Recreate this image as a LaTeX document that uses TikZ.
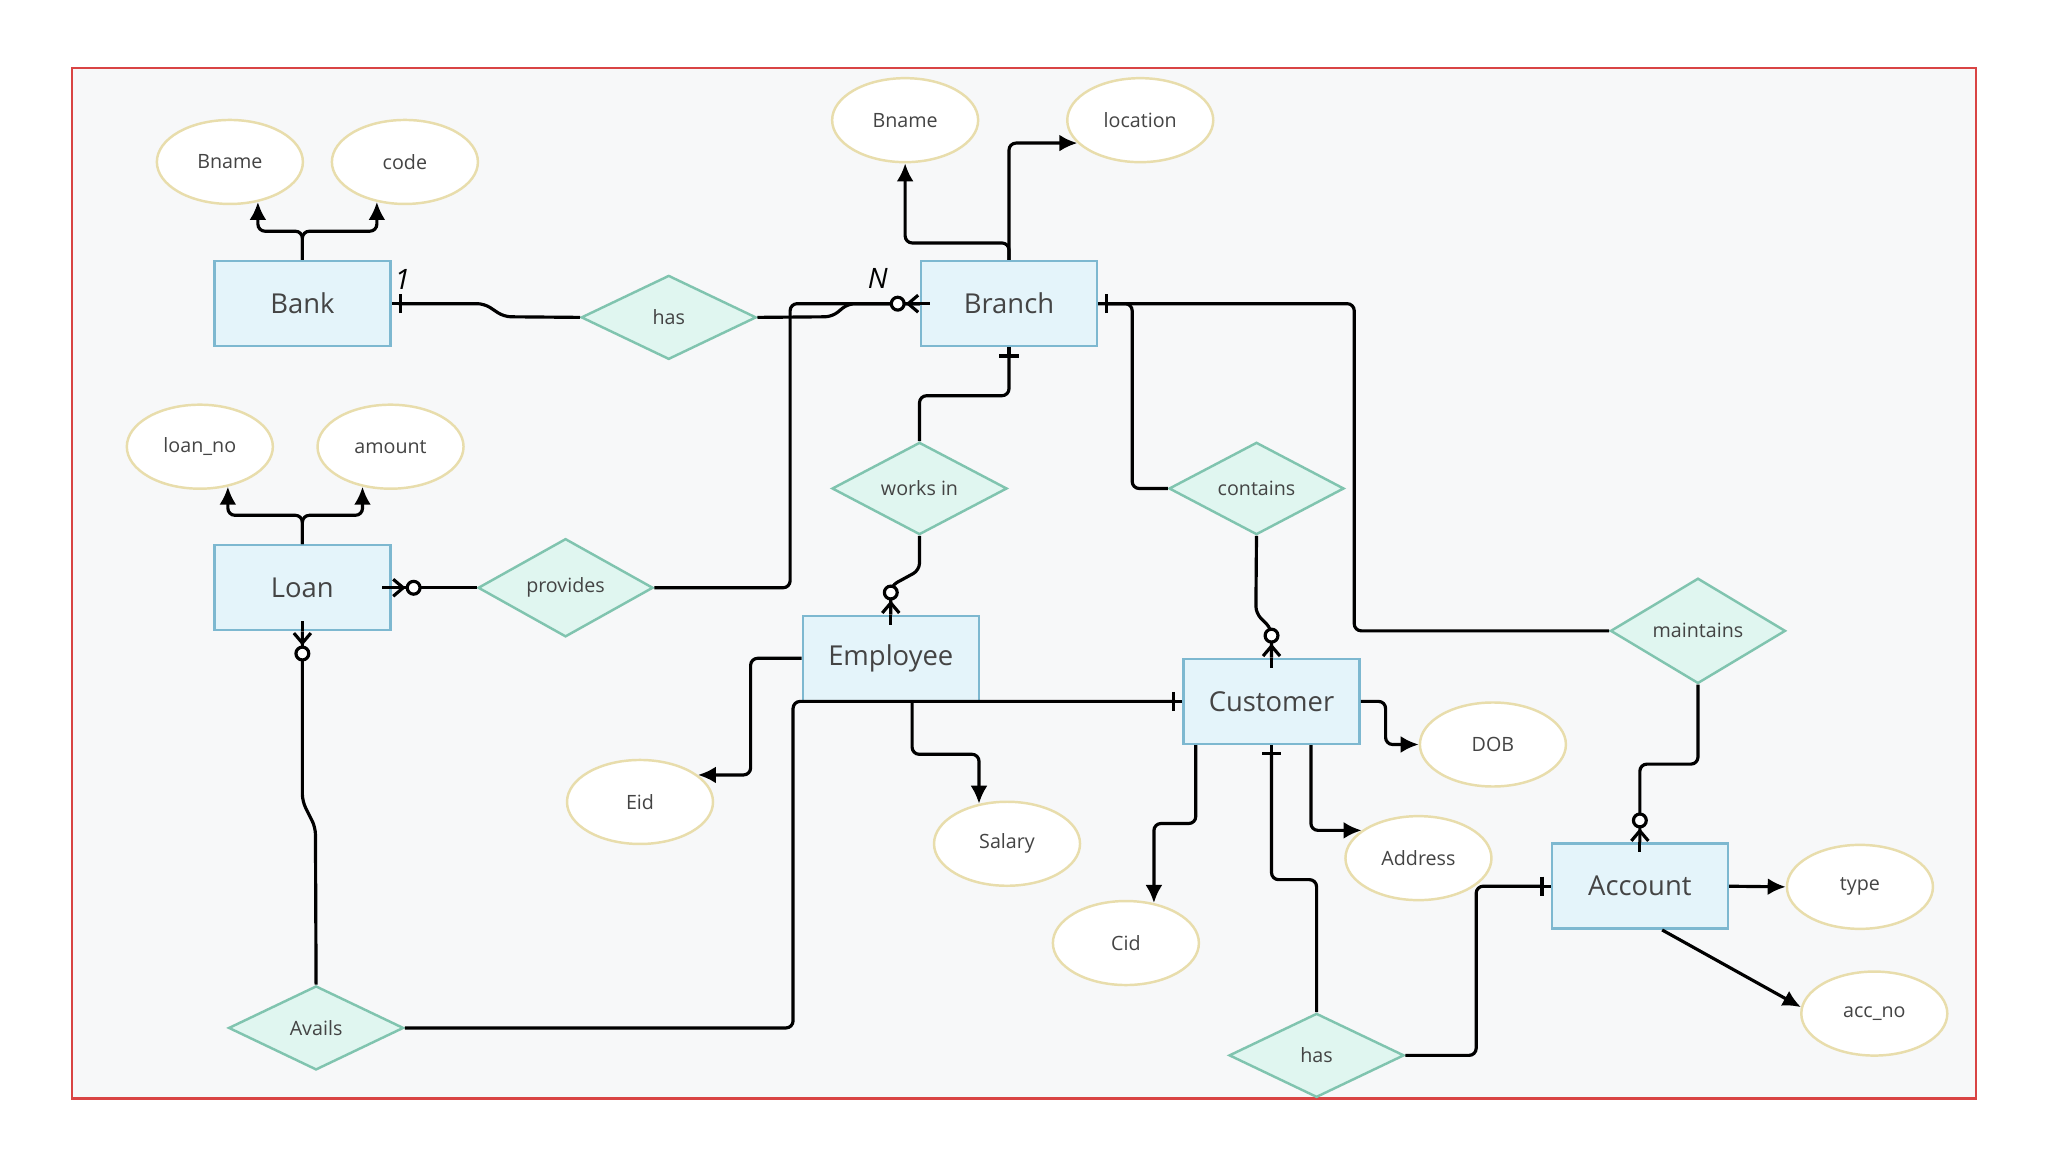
\documentclass[tikz,border=0pt]{standalone}
\usepackage{fontspec}
\setmainfont{Open Sans}
\usetikzlibrary{shapes.geometric,arrows.meta}
\definecolor{entfill}{HTML}{E4F4FA}
\definecolor{entline}{HTML}{7DB8D0}
\definecolor{relfill}{HTML}{E0F6F0}
\definecolor{relline}{HTML}{80C4AF}
\definecolor{attline}{HTML}{E8DDAC}
\definecolor{paper}{HTML}{F7F8F9}
\definecolor{framered}{HTML}{D94444}
\definecolor{ink}{HTML}{444444}
\tikzset{
  entity/.style={draw=entline,fill=entfill,line width=.7pt,minimum width=17.6mm,minimum height=8.5mm,inner sep=0pt,text=ink,font=\fontsize{7.8}{9}\selectfont},
  relation/.style={diamond,draw=relline,fill=relfill,line width=.7pt,minimum width=17.5mm,minimum height=8.4mm,inner sep=0pt,text=ink,font=\fontsize{5.6}{7}\selectfont},
  attrib/.style={ellipse,draw=attline,fill=white,line width=.7pt,minimum width=14.6mm,minimum height=8.4mm,inner sep=0pt,text=ink,font=\fontsize{5.6}{7}\selectfont},
  attrline/.style={line width=.9pt,rounded corners=2pt,-{Latex[length=1.8mm,width=1.7mm]}},
  rel/.style={line width=.9pt,rounded corners=2pt},
  onemark/.style={{Rectangle[length=.7mm,width=.9pt,line width=0pt] Bar[width=1.9mm]}-},
  manymark/.style={{Rectangle[length=1mm,width=.9pt,line width=0pt,sep=-1mm] Straight Barb[reversed,length=1mm,width=1.7mm] Circle[open,fill=white,length=1.6mm]}-},
}
\begin{document}
\begin{tikzpicture}[x=0.1306mm,y=-0.1306mm]
\useasboundingbox (0,0) rectangle (1568,882);
\fill[paper] (55,52) rectangle (1513,841);
\draw[framered,line width=.6pt] (55,52) rectangle (1513,841);

% entities
\node[entity] (bank) at (231.5,232.5) {Bank};
\node[entity] (branch) at (772.5,232.5) {Branch};
\node[entity] (loan) at (231.5,450) {Loan};
\node[entity] (emp) at (682,504) {Employee};
\node[entity] (cust) at (973.5,537) {Customer};
\node[entity] (acc) at (1255.5,678.5) {Account};

% relationships
\node[relation] (hasbr) at (512,243) {has};
\node[relation] (works) at (704,374) {works in};
\node[relation] (contains) at (962,374) {contains};
\node[relation] (provides) at (433,450) {provides};
\node[relation] (maintains) at (1300,483) {maintains};
\node[relation] (avails) at (242,787) {Avails};
\node[relation] (hasac) at (1008,808) {has};

% attributes
\node[attrib] (bankname) at (176,124) {Bname};
\node[attrib] (bankcode) at (310,124) {code};
\node[attrib] (brname) at (693,92) {Bname};
\node[attrib] (brloc) at (873,92) {location};
\node[attrib] (loanno) at (153,342) {loan\_no};
\node[attrib] (amount) at (299,342) {amount};
\node[attrib] (eid) at (490,614) {Eid};
\node[attrib] (salary) at (771,646) {Salary};
\node[attrib] (dob) at (1143,570) {DOB};
\node[attrib] (addr) at (1086,657) {Address};
\node[attrib] (cid) at (862,722) {Cid};
\node[attrib] (type) at (1424,679) {type};
\node[attrib] (accno) at (1435,776) {acc\_no};

% cardinality notes
\node[font=\fontsize{8}{9}\selectfont\itshape] (cardone) at (308,214) {1};
\node[font=\fontsize{8}{9}\selectfont\itshape] (cardn) at (672,213) {N};

% attribute arrows
\draw[attrline] (bank.north) -- ++(0,-22) -| (bankname.305);
\draw[attrline] (bank.north) -- ++(0,-22) -| (bankcode.235);
\draw[attrline] (branch.north) -- ++(0,-13) -| (brname.south);
\draw[attrline] (branch.north) |- (brloc.200);
\draw[attrline] (loan.north) -- ++(0,-22) -| (loanno.305);
\draw[attrline] (loan.north) -- ++(0,-22) -| (amount.235);
\draw[attrline] (emp.west) -- ++(-39,0) |- (eid.25);
\draw[attrline] (emp.-64) -- ++(0,40) -| (salary.125);
\draw[attrline] (cust.east) -- ++(19,0) |- (dob.west);
\draw[attrline] (cust.-48) |- (addr.154);
\draw[attrline] (cust.210) -- ++(0,60) -| (cid.55);
\draw[attrline] (acc.east) -- (type.west);
\draw[attrline] (acc.-63) -- (accno.175);

% relationship lines
\draw[rel,onemark] (bank.east) -- ++(71,0) -- ++(15,10) -- (hasbr.west);
\draw[rel] (provides.east) -- ++(104,0) |- (branch.west);
\draw[rel,manymark] (branch.west) -- ++(-55,0) -- ++(-12,10) -- (hasbr.east);
\draw[rel,manymark] (loan.east) -- (provides.west);
\draw[rel,onemark] (branch.south) -- ++(0,37) -| (works.north);
\draw[rel,manymark] (emp.north) -- ++(0,-22) -- ++(22,-12) -- (works.south);
\draw[rel] (branch.east) -- ++(196,0) |- (maintains.west);
\draw[rel,onemark] (branch.east) -- ++(26,0) |- (contains.west);
\draw[rel,manymark] (cust.north) -- ++(0,-22) -- ++(-12,-12) -- (contains.south);
\draw[rel,manymark] (acc.north) -- ++(0,-60) -| (maintains.south);
\draw[rel,manymark] (loan.south) -- ++(0,130) -- ++(10,20) -- (avails.north);
\draw[rel,onemark] (cust.west) -- ++(-298,0) |- (avails.east);
\draw[rel,onemark] (cust.south) -- ++(0,103) -| (hasac.north);
\draw[rel,onemark] (acc.west) -- ++(-57,0) |- (hasac.east);
\end{tikzpicture}
\end{document}
